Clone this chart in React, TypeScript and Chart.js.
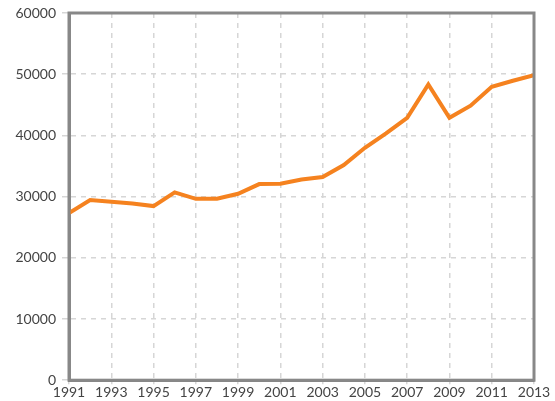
import React, { useEffect, useRef } from "react";
import { Chart, registerables } from "chart.js";

Chart.register(...registerables);

const years = [1991, 1992, 1993, 1994, 1995, 1996, 1997, 1998, 1999, 2000, 2001, 2002, 2003, 2004, 2005, 2006, 2007, 2008, 2009, 2010, 2011, 2012, 2013];
const values = [27300, 29430, 29150, 28880, 28450, 30680, 29640, 29640, 30460, 32040, 32100, 32800, 33190, 35150, 37980, 40330, 42880, 48320, 42880, 44850, 47940, 48930, 49860];
const yMin = 0;
const yMax = 60000;
const yStep = 10000;
const xStep = 2;

const frame = {
  id: "frame",
  afterDatasetsDraw(chart: any) {
    const { ctx, chartArea } = chart;
    ctx.save();
    ctx.strokeStyle = "#888888";
    ctx.lineWidth = 3;
    ctx.strokeRect(chartArea.left, chartArea.top, chartArea.right - chartArea.left, chartArea.bottom - chartArea.top);
    ctx.restore();
  },
};

export default function App() {
  const ref = useRef<HTMLCanvasElement>(null);
  useEffect(() => {
    if (!ref.current) return;
    const font = { family: "Lato", size: 14 };
    const chart = new Chart(ref.current, {
      type: "line",
      data: {
        datasets: [
          {
            data: years.map((y, i) => ({ x: y, y: values[i] })),
            borderColor: "#f5821f",
            borderWidth: 4,
            pointRadius: 0,
            tension: 0,
            fill: false,
          },
        ],
      },
      options: {
        animation: false,
        responsive: false,
        maintainAspectRatio: false,
        layout: { padding: { top: 13, right: 21, left: 0, bottom: 0 } },
        plugins: { legend: { display: false }, tooltip: { enabled: false }, title: { display: false } },
        scales: {
          x: {
            type: "linear",
            min: years[0],
            max: years[years.length - 1],
            ticks: { stepSize: xStep, color: "#444", font, padding: 0, maxRotation: 0, callback: (v: any) => String(v) },
            grid: { color: "#d6d6d6", lineWidth: 1.5, tickLength: 4, drawTicks: true },
            border: { display: true, color: "#888888", width: 3, dash: [5, 5] },
          },
          y: {
            min: yMin,
            max: yMax,
            afterFit: (s: any) => { s.width = 69; },
            ticks: { stepSize: yStep, color: "#444", font: { family: "Lato", size: 14, lineHeight: 1 }, padding: 6, callback: (v: any) => String(v) },
            grid: { color: "#d6d6d6", lineWidth: 1.5, tickLength: 7 },
            border: { display: true, color: "#888888", width: 3, dash: [5, 5] },
          },
        },
      },
      plugins: [frame],
    });
    return () => chart.destroy();
  }, []);
  return (
    <div style={{ position: "fixed", left: 0, top: 0, width: 555, height: 401, background: "#fff" }}>
      <canvas ref={ref} width={555} height={401} />
    </div>
  );
}
